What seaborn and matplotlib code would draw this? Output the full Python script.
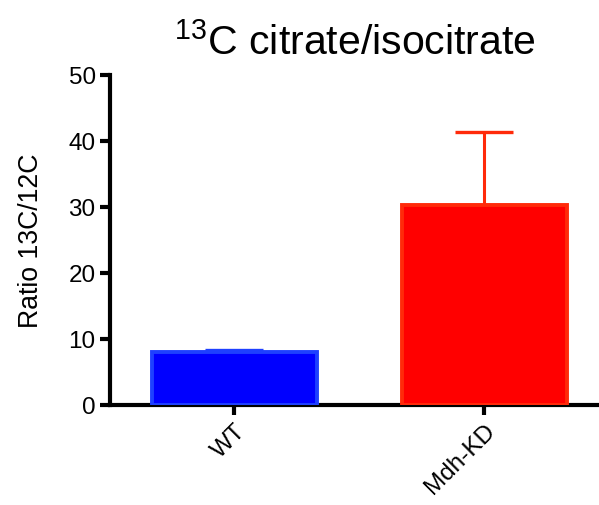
import matplotlib
matplotlib.use("Agg")
import matplotlib.pyplot as plt
import seaborn as sns
import pandas as pd

groups = ["WT", "Mdh-KD"]
ratio_mean = [8.0, 30.3]
ratio_sem = [0.3, 11.1]
fill_colors = ["#0000ff", "#ff0000"]
edge_colors = ["#1e40ff", "#ff2a0a"]

sns.set_style("ticks")
plt.rcParams["font.family"] = ["Liberation Sans", "DejaVu Sans"]
plt.rcParams["mathtext.fontset"] = "custom"
plt.rcParams["mathtext.rm"] = "Liberation Sans"
plt.rcParams["mathtext.it"] = "Liberation Sans"
plt.rcParams["mathtext.bf"] = "Liberation Sans"
for key in ["text.color", "axes.labelcolor", "xtick.color", "ytick.color"]:
    plt.rcParams[key] = "black"

df = pd.DataFrame({"group": groups, "ratio": ratio_mean})

fig = plt.figure(figsize=(5.99, 5.06), dpi=100)
ax = fig.add_axes([0.184, 0.198, 0.816, 0.652])

sns.barplot(data=df, x="group", y="ratio", hue="group", palette=fill_colors,
            saturation=1, legend=False, errorbar=None, width=0.66, ax=ax,
            zorder=3)

for patch, ec in zip(ax.patches, edge_colors):
    patch.set_edgecolor(ec)
    patch.set_linewidth(2.8)

for i, (m, e, ec) in enumerate(zip(ratio_mean, ratio_sem, edge_colors)):
    ax.errorbar(i, m, yerr=[[0], [e]], color=ec, elinewidth=2.2,
                capsize=21, capthick=2.4, zorder=2)

ax.set_xlim(-0.496, 1.46)
ax.set_ylim(0, 50)
ax.set_yticks([0, 10, 20, 30, 40, 50])
ax.set_xlabel("")
ax.set_ylabel("Ratio 13C/12C", fontsize=19.2, labelpad=18, color="black")
ax.set_title(r"$^{13}$C citrate/isocitrate", fontsize=29.5, pad=15,
             color="black")

for side in ["top", "right"]:
    ax.spines[side].set_visible(False)
for side in ["left", "bottom"]:
    ax.spines[side].set_linewidth(3)
    ax.spines[side].set_color("black")

ax.tick_params(axis="both", width=3, length=7, labelsize=17.5,
               color="black", labelcolor="black")
plt.setp(ax.get_xticklabels(), rotation=45, ha="right", rotation_mode="anchor")

fig.savefig("out.png", dpi=100)
